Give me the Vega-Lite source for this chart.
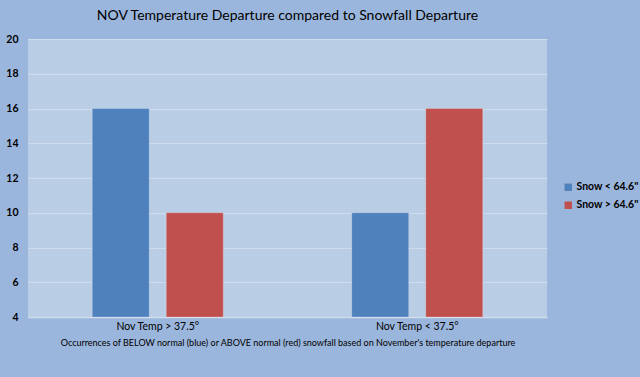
{
  "$schema": "https://vega.github.io/schema/vega-lite/v6.json",
  "autosize": "none",
  "width": 519,
  "height": 278,
  "padding": {"left": 28, "top": 39, "right": 93, "bottom": 60},
  "background": "#9bb6dc",
  "title": {
    "text": "NOV Temperature Departure compared to Snowfall Departure",
    "font": "Lato",
    "fontSize": 14,
    "fontWeight": "normal",
    "color": "#000000",
    "anchor": "middle",
    "offset": 11
  },
  "config": {
    "view": {"fill": "#b9cde5", "stroke": null},
    "font": "Lato"
  },
  "data": {
    "values": [
      {"group": "Nov Temp >  37.5°", "snow": "Snow < 64.6\"", "count": 16},
      {"group": "Nov Temp >  37.5°", "snow": "Snow > 64.6\"", "count": 10},
      {"group": "Nov Temp <  37.5°", "snow": "Snow < 64.6\"", "count": 10},
      {"group": "Nov Temp <  37.5°", "snow": "Snow > 64.6\"", "count": 16}
    ]
  },
  "mark": {"type": "bar", "stroke": "#ffffff", "strokeOpacity": 0.3, "strokeWidth": 0.8},
  "encoding": {
    "x": {
      "field": "group",
      "type": "nominal",
      "sort": null,
      "scale": {"paddingInner": 0.495, "paddingOuter": 0.2475},
      "axis": {
        "title": "Occurrences of BELOW normal (blue) or ABOVE normal (red) snowfall based on November's temperature departure",
        "titleFont": "Lato",
        "titleFontSize": 9,
        "titleFontWeight": "normal",
        "titleColor": "#000000",
        "titlePadding": 7,
        "labelAngle": 0,
        "labelFont": "Lato",
        "labelFontSize": 10.5,
        "labelColor": "#000000",
        "labelPadding": 4,
        "ticks": false,
        "domain": true,
        "domainColor": "#d0dcec",
        "domainWidth": 1.5
      }
    },
    "xOffset": {
      "field": "snow",
      "type": "nominal",
      "scale": {"paddingInner": 0.23, "paddingOuter": 0}
    },
    "y": {
      "field": "count",
      "type": "quantitative",
      "scale": {"domain": [4, 20], "nice": false, "zero": false},
      "axis": {
        "title": null,
        "values": [4, 6, 8, 10, 12, 14, 16, 18, 20],
        "labelFont": "Lato",
        "labelFontSize": 10.5,
        "labelFontWeight": "bold",
        "labelColor": "#000000",
        "labelPadding": 10,
        "ticks": false,
        "domain": false,
        "gridColor": "#cfdcec",
        "gridWidth": 1
      }
    },
    "y2": {"datum": 4},
    "color": {
      "field": "snow",
      "type": "nominal",
      "scale": {"domain": ["Snow < 64.6\"", "Snow > 64.6\""], "range": ["#4f81bd", "#c0504d"]},
      "legend": {
        "title": null,
        "orient": "none",
        "legendX": 535,
        "legendY": 143,
        "symbolType": "square",
        "symbolSize": 55,
        "symbolStrokeWidth": 0,
        "labelFont": "Lato",
        "labelFontSize": 10.5,
        "labelFontWeight": "bold",
        "labelColor": "#000000",
        "labelOffset": 3,
        "rowPadding": 7
      }
    }
  }
}
